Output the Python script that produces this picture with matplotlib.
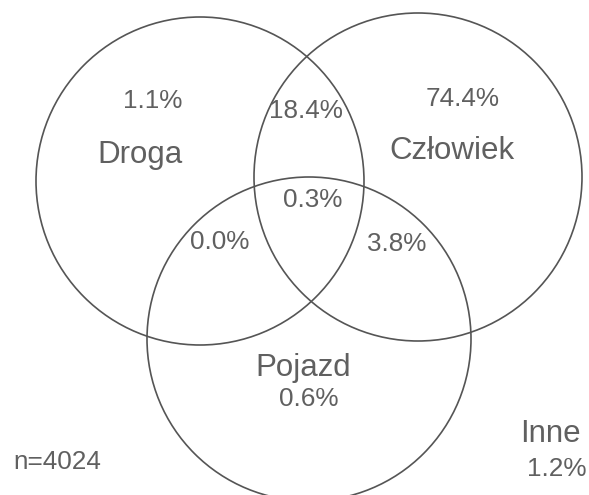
import matplotlib
matplotlib.use("Agg")
import matplotlib.pyplot as plt
from matplotlib.patches import Circle

# data: share of accidents by cause group
sets = ["Droga", "Człowiek", "Pojazd"]
regions = ["D", "C", "P", "DC", "DP", "CP", "DCP", "none"]
shares = [1.1, 74.4, 0.6, 18.4, 0.0, 3.8, 0.3, 1.2]
n_total = 4024
other_label = "Inne"

# layout (pixel coordinates of the original picture, y down)
circles = {"Droga": (200, 181, 164), "Człowiek": (418, 177, 164), "Pojazd": (309, 339, 162)}
name_pos = {"Droga": (140, 163), "Człowiek": (452, 159), "Pojazd": (303, 376)}
share_pos = {"D": (153, 108), "C": (463, 106), "P": (309, 406), "DC": (306, 118),
             "DP": (220, 249), "CP": (397, 251), "DCP": (313, 207), "none": (557, 476)}

W, H = 589, 495
grey_line = "#555555"
grey_text = "#606060"
plt.rcParams["font.family"] = ["Liberation Sans", "DejaVu Sans"]

fig = plt.figure(figsize=(W / 100, H / 100), dpi=100)
ax = fig.add_axes([0, 0, 1, 1])
ax.set_xlim(0, W)
ax.set_ylim(H, 0)
ax.set_aspect("equal")
ax.axis("off")

for name in sets:
    x, y, r = circles[name]
    ax.add_patch(Circle((x, y), r, fill=False, edgecolor=grey_line, linewidth=1.2))

for name in sets:
    x, y = name_pos[name]
    ax.text(x, y, name, fontsize=22.5, color=grey_text, ha="center", va="baseline")

for reg, val in zip(regions, shares):
    x, y = share_pos[reg]
    ax.text(x, y, f"{val:.1f}%", fontsize=18.8, color=grey_text, ha="center", va="baseline")

ax.text(550, 442, other_label, fontsize=22.5, color=grey_text, ha="center", va="baseline")
ax.text(57, 469, f"n={n_total}", fontsize=18.8, color=grey_text, ha="center", va="baseline")

fig.savefig("out.png", dpi=100)
